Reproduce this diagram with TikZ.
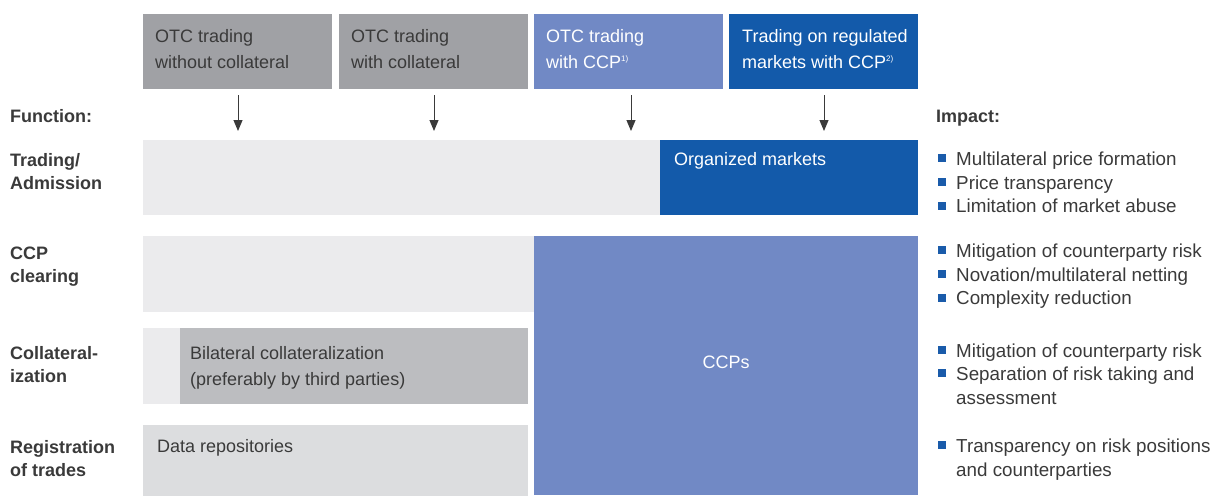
\documentclass[tikz,border=0pt]{standalone}
\usepackage{fontspec}
\setmainfont{Liberation Sans}
\usetikzlibrary{arrows.meta}
\definecolor{hgrey}{HTML}{A0A1A5}
\definecolor{lblue}{HTML}{7189C5}
\definecolor{dblue}{HTML}{135AAA}
\definecolor{rowgrey}{HTML}{EBEBED}
\definecolor{midgrey}{HTML}{BCBDC0}
\definecolor{repgrey}{HTML}{DCDDDF}
\definecolor{tgrey}{HTML}{3A3A3A}
\definecolor{bblue}{HTML}{1A5BAA}
\begin{document}
\begin{tikzpicture}[x=1pt,y=-1pt,
  box/.style={draw=none, inner sep=0, anchor=north west},
  txt/.style={anchor=base west, inner sep=0, font=\fontsize{18}{24}\selectfont, text=tgrey},
  wtxt/.style={txt, text=white},
  btxt/.style={txt, font=\fontsize{18}{24}\selectfont\bfseries},
  itxt/.style={txt, font=\fontsize{18.8}{24}\selectfont},
  bul/.style={fill=bblue, inner sep=0, minimum size=8pt, anchor=center},
  arr/.style={draw=tgrey, line width=1pt, -{Triangle[length=11pt,width=9pt]}}
]
\useasboundingbox (0,0) rectangle (1212,495);
% header boxes
\node[box, fill=hgrey, minimum width=189pt, minimum height=75pt] (h1) at (143,14) {};
\node[box, fill=hgrey, minimum width=189pt, minimum height=75pt] (h2) at (339,14) {};
\node[box, fill=lblue, minimum width=189pt, minimum height=75pt] (h3) at (534,14) {};
\node[box, fill=dblue, minimum width=189pt, minimum height=75pt] (h4) at (729,14) {};
\node[txt] (h1a) at (155,43) {OTC trading};
\node[txt] (h1b) at (155,68) {without collateral};
\node[txt] (h2a) at (351,43) {OTC trading};
\node[txt] (h2b) at (351,68) {with collateral};
\node[wtxt] (h3a) at (546,43) {OTC trading};
\node[wtxt] (h3b) at (546,68) {with CCP\raisebox{6.5pt}{\fontsize{8}{8}\selectfont 1)}};
\node[wtxt] (h4a) at (742,43) {Trading on regulated};
\node[wtxt] (h4b) at (742,68) {markets with CCP\raisebox{6.5pt}{\fontsize{8}{8}\selectfont 2)}};
% arrows
\coordinate (t1) at (238,131);
\coordinate (t2) at (434,131);
\coordinate (t3) at (631,131);
\coordinate (t4) at (824,131);
\draw[arr] (h1.south -| t1) ++(0,6) -- (t1);
\draw[arr] (h2.south -| t2) ++(0,6) -- (t2);
\draw[arr] (h3.south -| t3) ++(0,6) -- (t3);
\draw[arr] (h4.south -| t4) ++(0,6) -- (t4);
% rows
\node[box, fill=rowgrey, minimum width=517pt, minimum height=75pt] (r1) at (143,139.5) {};
\node[box, fill=dblue, minimum width=258pt, minimum height=75pt] (om) at (660,139.5) {};
\node[wtxt] (omt) at (674,165) {Organized markets};
\node[box, fill=rowgrey, minimum width=391pt, minimum height=76pt] (r2) at (143,236) {};
\node[box, fill=lblue, minimum width=384pt, minimum height=259pt] (ccp) at (534,236) {};
\node[wtxt] (ccpt) at (ccp.center) [anchor=base, yshift=-3pt] {CCPs};
\node[box, fill=rowgrey, minimum width=37pt, minimum height=76pt] (r3) at (143,328) {};
\node[box, fill=midgrey, minimum width=348pt, minimum height=76pt] (bil) at (180,328) {};
\node[txt] (bila) at (190,359) {Bilateral collateralization};
\node[txt] (bilb) at (190,385) {(preferably by third parties)};
\node[box, fill=repgrey, minimum width=385pt, minimum height=71pt] (rep) at (143,424.5) {};
\node[txt] (rept) at (157,452) {Data repositories};
% left labels
\node[btxt] (fn) at (10,122) {Function:};
\node[btxt] (l1a) at (10,166) {Trading/};
\node[btxt] (l1b) at (10,189) {Admission};
\node[btxt] (l2a) at (10,259) {CCP};
\node[btxt] (l2b) at (10,282) {clearing};
\node[btxt] (l3a) at (10,359) {Collateral-};
\node[btxt] (l3b) at (10,382) {ization};
\node[btxt] (l4a) at (10,453) {Registration};
\node[btxt] (l4b) at (10,476) {of trades};
% impact
\node[btxt] (imp) at (936,122) {Impact:};
\node[bul] (b1) at (942,158) {}; \node[itxt] (i1) at (956,165) {Multilateral price formation};
\node[bul] (b2) at (942,182) {}; \node[itxt] (i2) at (956,189) {Price transparency};
\node[bul] (b3) at (942,205.5) {}; \node[itxt] (i3) at (956,212.5) {Limitation of market abuse};
\node[bul] (b4) at (942,250) {}; \node[itxt] (i4) at (956,257) {Mitigation of counterparty risk};
\node[bul] (b5) at (942,274) {}; \node[itxt] (i5) at (956,281) {Novation/multilateral netting};
\node[bul] (b6) at (942,297.5) {}; \node[itxt] (i6) at (956,304.5) {Complexity reduction};
\node[bul] (b7) at (942,350) {}; \node[itxt] (i7) at (956,357) {Mitigation of counterparty risk};
\node[bul] (b8) at (942,373) {}; \node[itxt] (i8) at (956,380) {Separation of risk taking and};
\node[itxt] (i8b) at (956,404) {assessment};
\node[bul] (b9) at (942,445) {}; \node[itxt] (i9) at (956,452) {Transparency on risk positions};
\node[itxt] (i9b) at (956,476) {and counterparties};
\end{tikzpicture}
\end{document}
